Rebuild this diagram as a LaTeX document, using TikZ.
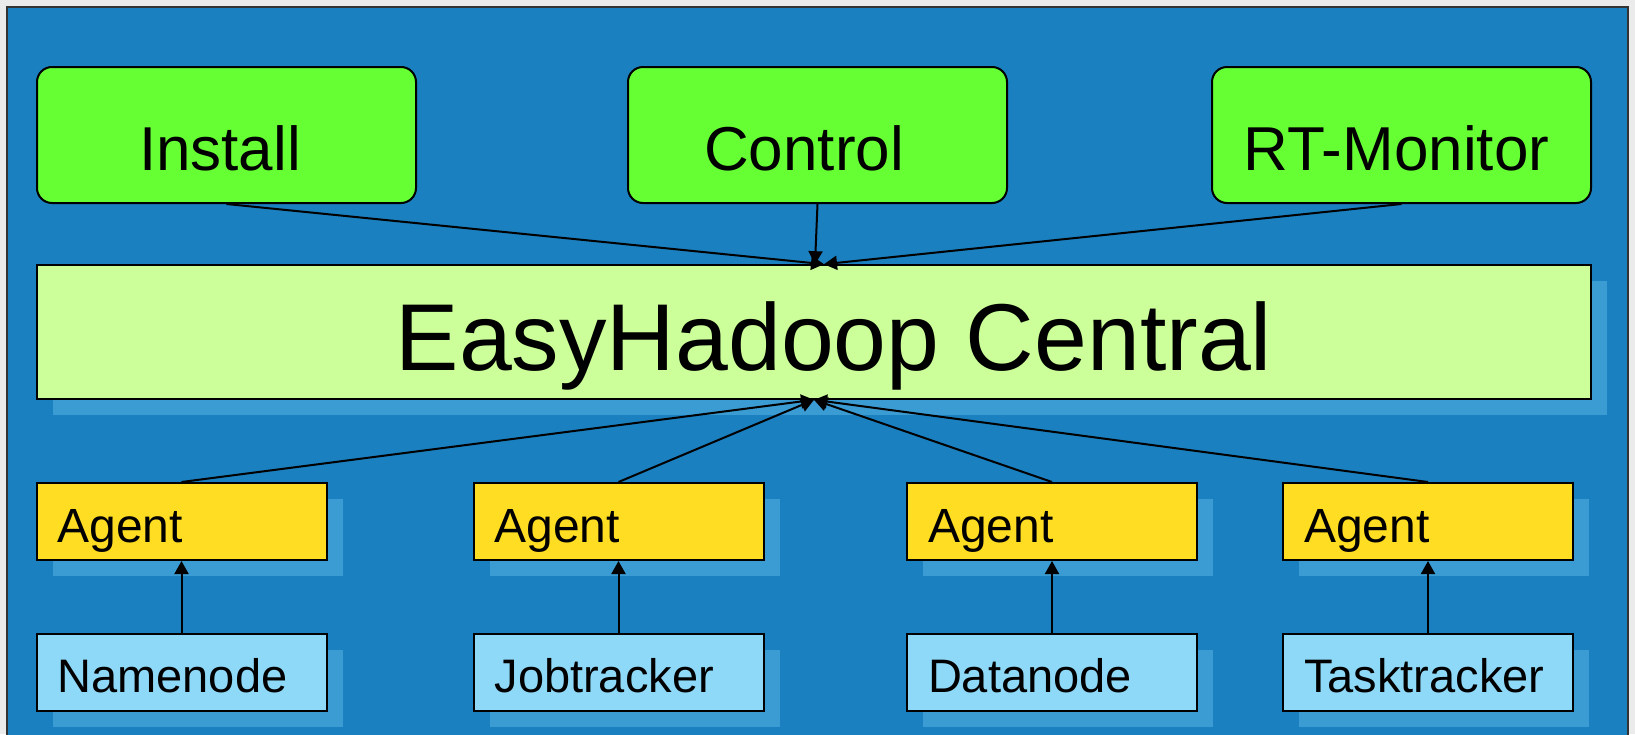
\documentclass[tikz,border=0pt]{standalone}
\usepackage{fontspec}
\setmainfont{Liberation Sans}
\usetikzlibrary{arrows.meta,shadows}
\definecolor{pagebg}{HTML}{EBEBEB}
\definecolor{panelc}{HTML}{1A80C0}
\definecolor{shadowc}{HTML}{3B9CD4}
\definecolor{greenc}{HTML}{66FF33}
\definecolor{centralc}{HTML}{CCFF99}
\definecolor{agentc}{HTML}{FFDD22}
\definecolor{svcc}{HTML}{8FD9F8}
\tikzset{
  topbox/.style={draw=black, line width=2pt, fill=greenc, rounded corners=15pt,
    minimum width=379pt, minimum height=136pt, inner sep=0pt,
    font=\fontsize{62pt}{70pt}\selectfont, text height=70pt, text depth=0pt},
  centralbox/.style={draw=black, line width=1.6pt, fill=centralc,
    minimum width=1554pt, minimum height=134pt, inner sep=0pt,
    general shadow={fill=shadowc, shadow xshift=16pt, shadow yshift=-16pt},
    font=\fontsize{95pt}{100pt}\selectfont, text height=76pt, text depth=0pt},
  agentbox/.style={draw=black, line width=2pt, fill=agentc,
    minimum height=77pt, inner xsep=21pt, inner ysep=0pt, text width=248pt, align=left,
    general shadow={fill=shadowc, shadow xshift=16pt, shadow yshift=-16pt},
    font=\fontsize{48pt}{52pt}\selectfont, text height=41pt, text depth=0pt},
  svcbox/.style={agentbox, fill=svcc, font=\fontsize{47pt}{52pt}\selectfont,
    text height=39pt, text depth=0pt},
  link/.style={draw=black, line width=2pt, -{Triangle[length=13pt,width=14pt]}},
}
\begin{document}
\begin{tikzpicture}[x=1pt, y=-1pt]
  \useasboundingbox (0,0) rectangle (1635,734);
  \fill[pagebg] (0,0) rectangle (1635,734);
  \path[fill=panelc, draw=black!80, line width=1.5pt] (7,7) rectangle (1628,745);

  % top modules
  \node[topbox] (install) at (226.5,135) {\hspace*{-13pt}Install};
  \node[topbox] (control) at (817.5,135) {\hspace*{-27pt}Control};
  \node[topbox] (rtmon)   at (1401.5,135) {\hspace*{-10pt}RT-Monitor};

  % central
  \node[centralbox] (central) at (814,332) {\hspace*{40pt}EasyHadoop Central};

  % agents
  \node[agentbox] (a1) at (181.5,521.5) {Agent};
  \node[agentbox] (a2) at (618.5,521.5) {Agent};
  \node[agentbox] (a3) at (1052,521.5) {Agent};
  \node[agentbox] (a4) at (1428,521.5) {Agent};

  % services
  \node[svcbox] (s1) at (181.5,672.5) {Namenode};
  \node[svcbox] (s2) at (618.5,672.5) {Jobtracker};
  \node[svcbox] (s3) at (1052,672.5) {Datanode};
  \node[svcbox] (s4) at (1428,672.5) {Tasktracker};

  % connectors
  \draw[link] (install.south) -- ([xshift=10pt]central.north);
  \draw[link] (rtmon.south) -- ([xshift=10pt]central.north);
  \draw[link] (control.south) -- ([xshift=1pt]central.north);

  \foreach \a in {a1,a2,a3,a4}
    \draw[link] (\a.north) -- (central.south);

  \draw[link] (s1.north) -- (a1.south);
  \draw[link] (s2.north) -- (a2.south);
  \draw[link] (s3.north) -- (a3.south);
  \draw[link] (s4.north) -- (a4.south);
\end{tikzpicture}
\end{document}
